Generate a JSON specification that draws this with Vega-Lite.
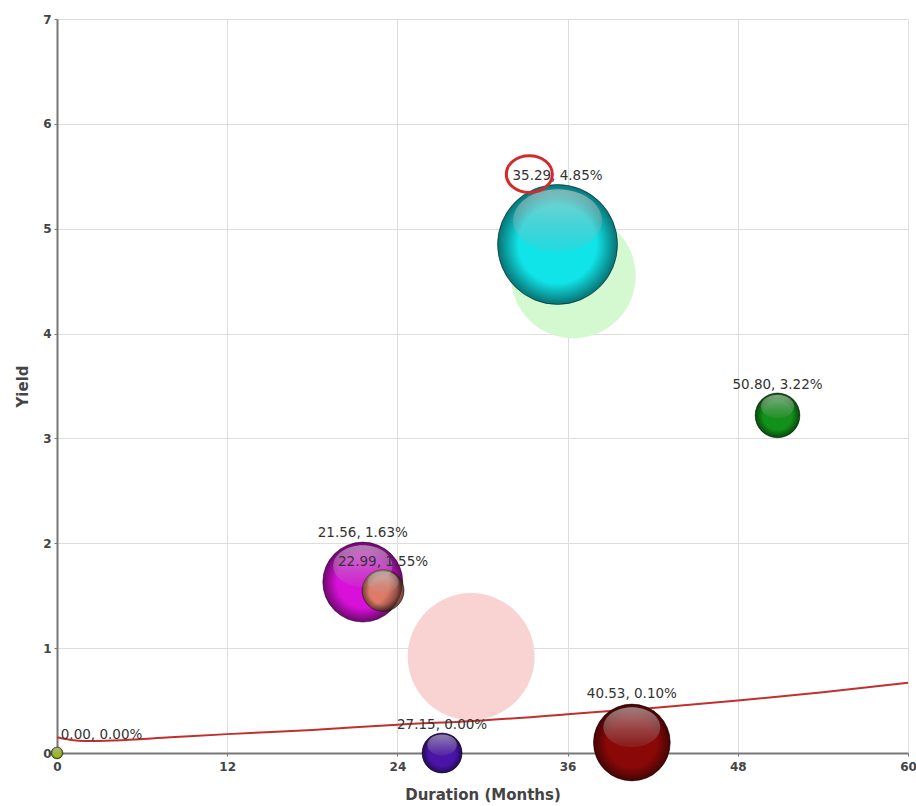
{
  "$schema": "https://vega.github.io/schema/vega-lite/v6.json",
  "width": 851,
  "height": 734,
  "autosize": {"type": "none"},
  "padding": {"left": 57, "top": 19, "right": 8, "bottom": 53},
  "background": "white",
  "config": {"view": {"stroke": null}, "font": "DejaVu Sans"},
  "datasets": {
    "bubbles": [
      {"fund": "F1", "duration": 0.0, "yield": 0.0, "amount": 1.4, "label": "0.00, 0.00%", "labelX": 3.14, "labelY": 0.17},
      {"fund": "F2", "duration": 21.56, "yield": 1.63, "amount": 64, "label": "21.56, 1.63%", "labelX": 21.56, "labelY": 2.1},
      {"fund": "F3", "duration": 22.99, "yield": 1.55, "amount": 17.6, "label": "22.99, 1.55%", "labelX": 22.99, "labelY": 1.82},
      {"fund": "F4", "duration": 27.15, "yield": 0.0, "amount": 16, "label": "27.15, 0.00%", "labelX": 27.15, "labelY": 0.27},
      {"fund": "F5", "duration": 35.29, "yield": 4.85, "amount": 144, "label": "35.29, 4.85%", "labelX": 35.29, "labelY": 5.5},
      {"fund": "F6", "duration": 40.53, "yield": 0.1, "amount": 59, "label": "40.53, 0.10%", "labelX": 40.53, "labelY": 0.56},
      {"fund": "F7", "duration": 50.8, "yield": 3.22, "amount": 20, "label": "50.80, 3.22%", "labelX": 50.8, "labelY": 3.51}
    ],
    "ghosts": [
      {"fund": "G1", "duration": 36.4, "yield": 4.55, "amount": 156},
      {"fund": "G2", "duration": 29.2, "yield": 0.92, "amount": 161}
    ],
    "curve": [
      {"duration": 0, "yield": 0.15},
      {"duration": 1, "yield": 0.125},
      {"duration": 2, "yield": 0.115},
      {"duration": 4, "yield": 0.12},
      {"duration": 8, "yield": 0.15},
      {"duration": 12, "yield": 0.18},
      {"duration": 18, "yield": 0.22},
      {"duration": 24, "yield": 0.27},
      {"duration": 30, "yield": 0.31},
      {"duration": 36, "yield": 0.37},
      {"duration": 42, "yield": 0.43},
      {"duration": 48, "yield": 0.5},
      {"duration": 54, "yield": 0.58},
      {"duration": 60, "yield": 0.67}
    ],
    "note": [{"duration": 33.3, "yield": 5.52}]
  },
  "layer": [
    {
      "data": {"name": "ghosts"},
      "mark": {"type": "point", "shape": "circle", "filled": true, "opacity": 1},
      "encoding": {
        "x": {
          "field": "duration", "type": "quantitative",
          "scale": {"domain": [0, 60], "nice": false},
          "axis": {
            "title": "Duration (Months)", "values": [0, 12, 24, 36, 48, 60], "format": "d",
            "grid": true, "gridColor": "#dddddd", "gridWidth": 1,
            "domainColor": "#777777", "domainWidth": 2,
            "tickColor": "#777777", "tickSize": 3, "labelFlush": false,
            "labelFont": "DejaVu Sans", "labelFontSize": 12, "labelFontWeight": "bold", "labelColor": "#444444",
            "labelPadding": 5,
            "titleFont": "DejaVu Sans", "titleFontSize": 15, "titleFontWeight": "bold", "titleColor": "#444444",
            "titlePadding": 15
          }
        },
        "y": {
          "field": "yield", "type": "quantitative",
          "scale": {"domain": [0, 7], "nice": false},
          "axis": {
            "title": "Yield", "values": [0, 1, 2, 3, 4, 5, 6, 7], "format": "d",
            "grid": true, "gridColor": "#dddddd", "gridWidth": 1,
            "domainColor": "#777777", "domainWidth": 2,
            "tickColor": "#777777", "tickSize": 3, "labelFlush": false,
            "labelFont": "DejaVu Sans", "labelFontSize": 12, "labelFontWeight": "bold", "labelColor": "#444444",
            "labelPadding": 3,
            "titleFont": "DejaVu Sans", "titleFontSize": 15, "titleFontWeight": "bold", "titleColor": "#444444",
            "titlePadding": 12
          }
        },
        "size": {"field": "amount", "type": "quantitative", "scale": {"type": "linear", "domain": [0, 100], "range": [0, 10000]}, "legend": null},
        "color": {
          "field": "fund", "type": "nominal", "legend": null,
          "scale": {
            "domain": ["F1", "F2", "F3", "F4", "F5", "F6", "F7", "G1", "G2"],
            "range": ["#9cb82a", "#d810d8", "#e07a68", "#4a14a8", "#10e4e8", "#8a0808", "#12901a", "#d4f8d0", "#f9d2d2"]
          }
        }
      }
    },
    {
      "data": {"name": "curve"},
      "mark": {"type": "line", "interpolate": "monotone", "color": "#c0302e", "strokeWidth": 2},
      "encoding": {
        "x": {"field": "duration", "type": "quantitative"},
        "y": {"field": "yield", "type": "quantitative"}
      }
    },
    {
      "data": {"name": "bubbles"},
      "mark": {"type": "point", "shape": "circle", "filled": true, "opacity": 1, "stroke": "#000000", "strokeOpacity": 0.45, "strokeWidth": 1},
      "encoding": {
        "x": {"field": "duration", "type": "quantitative"},
        "y": {"field": "yield", "type": "quantitative"},
        "size": {"field": "amount", "type": "quantitative"},
        "fill": {"field": "fund", "type": "nominal", "legend": null,
          "scale": {
            "domain": ["F1", "F2", "F3", "F4", "F5", "F6", "F7", "G1", "G2"],
            "range": ["#9cb82a", "#d810d8", "#e07a68", "#4a14a8", "#10e4e8", "#8a0808", "#12901a", "#d4f8d0", "#f9d2d2"]
          }
        }
      }
    },
    {
      "data": {"name": "bubbles"},
      "mark": {
        "type": "point", "shape": "circle", "filled": true, "opacity": 1,
        "fill": {
          "gradient": "radial", "x1": 0.5, "y1": 0.5, "r1": 0, "x2": 0.5, "y2": 0.5, "r2": 0.5,
          "stops": [
            {"offset": 0, "color": "rgba(0,0,0,0)"},
            {"offset": 0.65, "color": "rgba(0,0,0,0)"},
            {"offset": 1, "color": "rgba(0,0,0,0.5)"}
          ]
        }
      },
      "encoding": {
        "x": {"field": "duration", "type": "quantitative"},
        "y": {"field": "yield", "type": "quantitative"},
        "size": {"field": "amount", "type": "quantitative"}
      }
    },
    {
      "data": {"name": "bubbles"},
      "mark": {
        "type": "point", "filled": true, "opacity": 1,
        "shape": "M-0.74,-0.4A0.74,0.52,0,1,1,0.74,-0.4A0.74,0.52,0,1,1,-0.74,-0.4Z",
        "fill": {
          "gradient": "linear", "x1": 0, "y1": 0, "x2": 0, "y2": 1,
          "stops": [
            {"offset": 0, "color": "rgba(205,205,205,0.6)"},
            {"offset": 1, "color": "rgba(160,160,160,0.12)"}
          ]
        }
      },
      "encoding": {
        "x": {"field": "duration", "type": "quantitative"},
        "y": {"field": "yield", "type": "quantitative"},
        "size": {"field": "amount", "type": "quantitative"}
      }
    },
    {
      "data": {"name": "bubbles"},
      "mark": {"type": "text", "font": "DejaVu Sans", "fontSize": 13.5, "color": "#333333", "baseline": "middle", "align": "center"},
      "encoding": {
        "x": {"field": "labelX", "type": "quantitative"},
        "y": {"field": "labelY", "type": "quantitative"},
        "text": {"field": "label"}
      }
    },
    {
      "data": {"name": "note"},
      "mark": {
        "type": "point", "filled": false, "size": 2116,
        "shape": "M-1,0A1,0.8,0,1,0,1,0A1,0.8,0,1,0,-1,0Z",
        "stroke": "#d42a2a", "strokeWidth": 3, "opacity": 1
      },
      "encoding": {
        "x": {"field": "duration", "type": "quantitative"},
        "y": {"field": "yield", "type": "quantitative"}
      }
    }
  ]
}
